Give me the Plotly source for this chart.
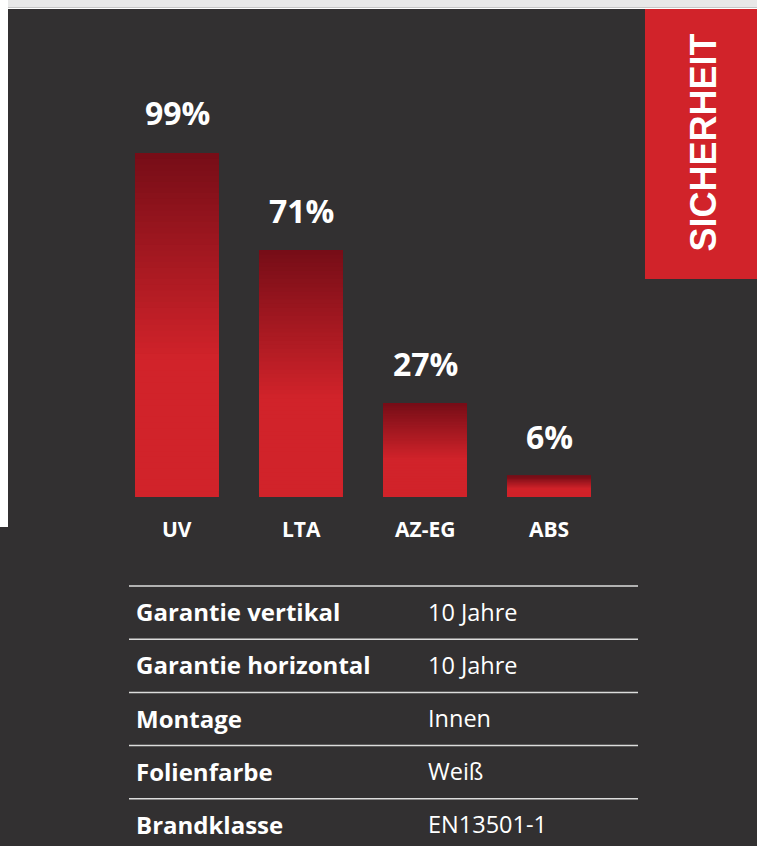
import plotly.graph_objects as go

W, H = 757, 846

categories = ["UV", "LTA", "AZ-EG", "ABS"]
values = [99, 71, 27, 6]
value_labels = ["99%", "71%", "27%", "6%"]

table_labels = ["Garantie vertikal", "Garantie horizontal", "Montage", "Folienfarbe", "Brandklasse"]
table_values = ["10 Jahre", "10 Jahre", "Innen", "Weiß", "EN13501-1"]

section_title = "SICHERHEIT"

BG = "#323031"
RED = (209, 35, 42)
DARK = (118, 13, 23)


def px(x):
    return x / W


def py(y):
    return 1 - y / H


def grad_color(t):
    # t = position from top of bar (0..1)
    f = min(t / 0.6, 1.0)
    c = [round(DARK[k] + (RED[k] - DARK[k]) * f) for k in range(3)]
    return "rgb(%d,%d,%d)" % tuple(c)


fig = go.Figure()

# gradient bars: each layer spans from its base up to the bar top; later layers cover upper parts
N = 60
for i in range(N):
    t = 1 - (i + 0.5) / N
    fig.add_trace(go.Bar(
        x=categories,
        y=[v * (N - i) / N for v in values],
        base=[v * i / N for v in values],
        marker=dict(color=grad_color(t), line=dict(width=0)),
        width=0.677,
        hoverinfo="skip",
        showlegend=False,
    ))

for c, v, lab in zip(categories, values, value_labels):
    fig.add_annotation(x=c, y=v, xref="x", yref="y", text="<b>%s</b>" % lab,
                       showarrow=False, yshift=40, yanchor="middle",
                       font=dict(family="Open Sans", size=32, color="white"))
    fig.add_annotation(x=c, y=0, xref="x", yref="y", text="<b>%s</b>" % c,
                       showarrow=False, yshift=-32, yanchor="middle",
                       font=dict(family="Open Sans", size=21, color="white"))

shapes = []
shapes.append(dict(type="rect", xref="paper", yref="paper", x0=px(0), x1=px(8), y0=py(527), y1=py(0),
                   fillcolor="white", line=dict(width=0), layer="below"))
shapes.append(dict(type="rect", xref="paper", yref="paper", x0=px(8), x1=px(W), y0=py(7.5), y1=py(0),
                   fillcolor="#e8e8e8", line=dict(width=0), layer="below"))
shapes.append(dict(type="rect", xref="paper", yref="paper", x0=px(8), x1=px(W), y0=py(9), y1=py(7.5),
                   fillcolor="#ffffff", line=dict(width=0), layer="below"))
shapes.append(dict(type="rect", xref="paper", yref="paper", x0=px(645), x1=px(W), y0=py(279), y1=py(9),
                   fillcolor="rgb(209,35,42)", line=dict(width=0), layer="below"))

fig.add_annotation(x=px(703), y=py(142.5), xref="paper", yref="paper", text="<b>%s</b>" % section_title,
                   textangle=-90, showarrow=False, xanchor="center", yanchor="middle",
                   font=dict(family="Liberation Sans", size=36, color="white"))

row0 = 586.0
row_h = 53.2
for k in range(len(table_labels)):
    yl = row0 + k * row_h
    shapes.append(dict(type="line", xref="paper", yref="paper", x0=px(129), x1=px(638), y0=py(yl), y1=py(yl),
                       line=dict(color="#dcdcdc", width=1.5)))
for k, (lab, val) in enumerate(zip(table_labels, table_values)):
    yc = row0 + (k + 0.5) * row_h - 1
    fig.add_annotation(x=px(134), y=py(yc), xref="paper", yref="paper", text="<b>%s</b>" % lab,
                       showarrow=False, xanchor="left", yanchor="middle",
                       font=dict(family="Open Sans", size=24, color="white"))
    fig.add_annotation(x=px(426), y=py(yc), xref="paper", yref="paper", text=val,
                       showarrow=False, xanchor="left", yanchor="middle",
                       font=dict(family="Open Sans", size=23.5, color="white"))

fig.update_layout(
    width=W, height=H,
    margin=dict(l=0, r=0, t=0, b=0),
    paper_bgcolor=BG, plot_bgcolor="rgba(0,0,0,0)",
    barmode="overlay",
    shapes=shapes,
    showlegend=False,
    xaxis=dict(domain=[px(115), px(611)], range=[-0.5, 3.5], type="category",
               showgrid=False, zeroline=False, showticklabels=False, showline=False, fixedrange=True),
    yaxis=dict(domain=[py(497), py(149.5)], range=[0, 100],
               showgrid=False, zeroline=False, showticklabels=False, showline=False, fixedrange=True),
)

fig.write_html("out.html", config={"displayModeBar": False})
